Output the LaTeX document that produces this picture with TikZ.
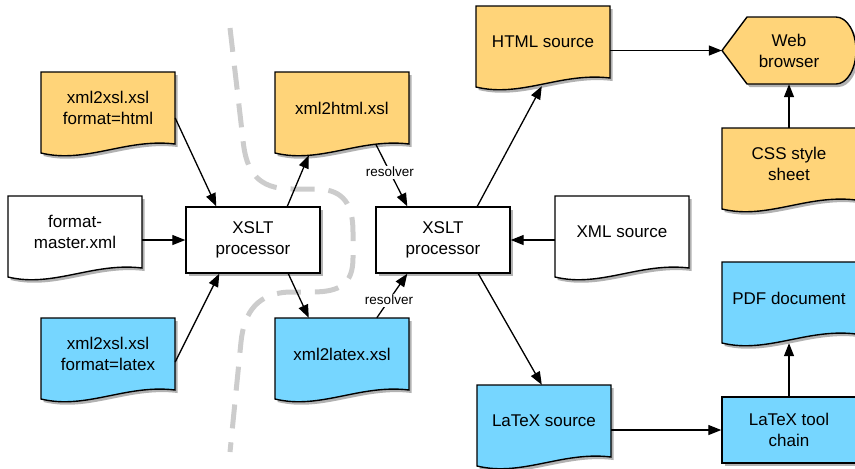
\documentclass[tikz,border=0pt]{standalone}
\usepackage{fontspec}
\setmainfont{Liberation Sans}
\usetikzlibrary{arrows.meta,calc,shadows}
\definecolor{orng}{HTML}{FFD479}
\definecolor{sky}{HTML}{76D6FF}
\definecolor{dashgray}{HTML}{CCCCCC}
\tikzset{
  shapeline/.style={draw=black, line width=1.4pt, drop shadow={shadow xshift=2.5pt, shadow yshift=-3pt, opacity=0.3, fill=black}},
  doctext/.style={minimum width=134pt, minimum height=72pt, inner sep=0pt, align=center, font=\fontsize{17}{21}\selectfont},
  procbox/.style={shapeline, fill=white, minimum width=134pt, minimum height=66pt, inner sep=0pt, align=center, font=\fontsize{17}{21}\selectfont},
  conn/.style={line width=1.3pt, -{Triangle[length=13pt,width=10pt]}},
  reslabel/.style={fill=white, inner sep=1.5pt, font=\fontsize{13.5}{16}\selectfont},
  sep/.style={line width=5pt, dashgray, dash pattern=on 24pt off 14pt}
}
\newcommand\docshape[5]{%
  \path[shapeline, fill=#4]
    (#2,#3) -- (#2+134,#3) -- (#2+134,#3+72) .. controls (#2+85,#3+66) and (#2+45,#3+92) .. (#2,#3+81) -- cycle;
  \node[doctext] (#1) at (#2+67,#3+36) {#5};
}
\begin{document}
\begin{tikzpicture}[x=1pt,y=-1pt]
\useasboundingbox (0,0) rectangle (855,469);
\clip (0,0) rectangle (855,469);
% separator
\draw[sep] (230,28) -- (243,140) .. controls (246,172) and (258,189) .. (292,189) -- (318,189)
  .. controls (344,190) and (353,205) .. (353,232) -- (353,258)
  .. controls (353,284) and (340,292) .. (312,292) -- (292,292)
  .. controls (258,292) and (244,312) .. (241,342) -- (230,452);
% documents
\docshape{xh}{41}{72}{orng}{xml2xsl.xsl\\format=html}
\docshape{xhtml}{275}{72}{orng}{xml2html.xsl}
\docshape{fm}{8}{196}{white}{format-\\master.xml}
\docshape{xl}{41}{318}{sky}{xml2xsl.xsl\\format=latex}
\docshape{xlatex}{275}{318}{sky}{xml2latex.xsl}
\docshape{hs}{476}{6}{orng}{HTML source}
\docshape{css}{722}{128}{orng}{CSS style\\sheet}
\docshape{xs}{555}{196}{white}{XML source}
\docshape{pdf}{722}{262}{sky}{PDF document}
\docshape{ls}{477}{385}{sky}{LaTeX source}
% processors
\node[procbox] (p1) at (253,240) {XSLT\\processor};
\node[procbox] (p2) at (443,240) {XSLT\\processor};
\node[procbox, fill=sky] (chain) at (789,430) {LaTeX tool\\chain};
% web browser
\path[shapeline, fill=orng] (722,50.5) -- (747,17) -- (836,17)
  arc[start angle=-90, end angle=90, x radius=20, y radius=33.5] -- (747,84) -- cycle;
\node[doctext, minimum height=67pt] (wb) at (789,50.5) {Web\\browser};
% connectors
\draw[conn] ($(xh.east)+(0,10)$) -- ($(p1.north west)+(31,0)$);
\draw[conn] (fm.east |- p1.west) -- (p1.west);
\draw[conn] ($(xl.east)+(0,8)$) -- ($(p1.south west)+(34,0)$);
\draw[conn] ($(p1.north west)+(102,0)$) -- ($(xhtml.south west)+(34,11)$);
\draw[conn] ($(p1.south west)+(103,0)$) -- ($(xlatex.north west)+(34,0)$);
\draw[conn] ($(xhtml.south west)+(101,0)$) -- node[reslabel, pos=0.45] {resolver} ($(p2.north west)+(32,0)$);
\draw[conn] ($(xlatex.north west)+(102,0)$) -- node[reslabel, pos=0.4] {resolver} ($(p2.south west)+(32,0)$);
\draw[conn] ($(p2.north west)+(102,0)$) -- ($(hs.south west)+(66,8)$);
\draw[conn] (xs.west |- p2.east) -- (p2.east);
\draw[conn] ($(p2.south west)+(103,0)$) -- ($(ls.north west)+(65,0)$);
\draw[conn] (hs.east |- wb.west) -- (wb.west);
\draw[conn] (css.north) -- (wb.south);
\draw[conn] (ls.east |- chain.west) -- (chain.west);
\draw[conn] (chain.north) -- ($(pdf.south)+(0,9)$);
\end{tikzpicture}
\end{document}
